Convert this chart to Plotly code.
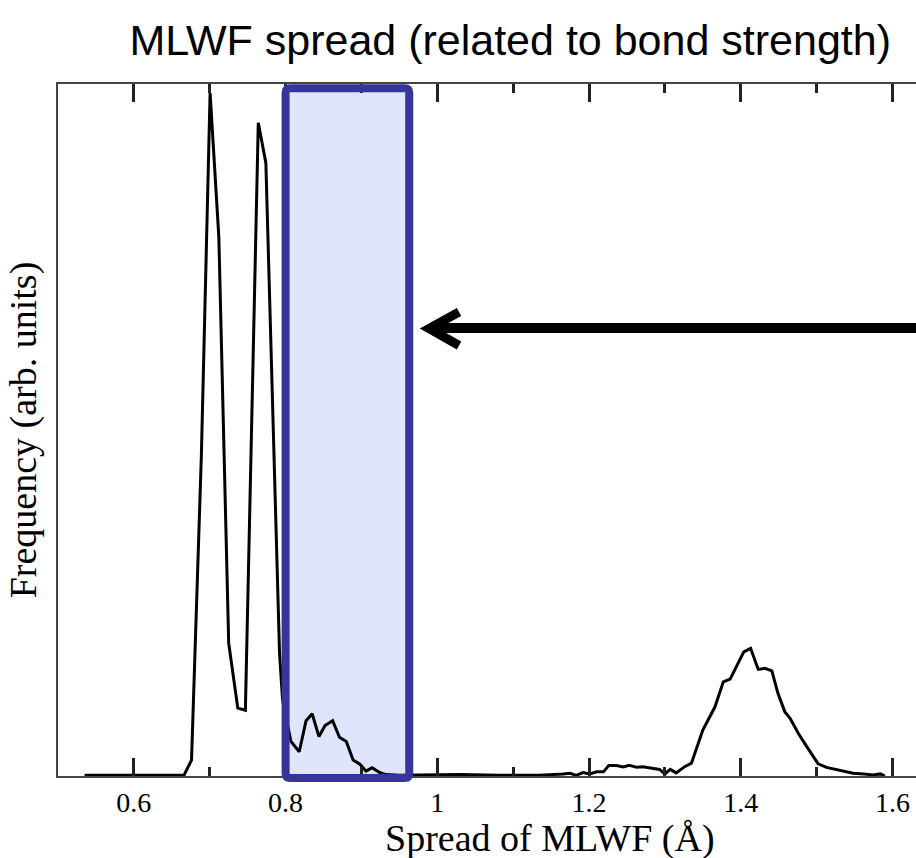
import plotly.graph_objects as go

# MLWF spread histogram (arbitrary frequency units)
spread = [0.535, 0.666, 0.676, 0.689, 0.7005, 0.712, 0.725, 0.737, 0.747, 0.764,
          0.774, 0.792, 0.796, 0.807, 0.818, 0.827, 0.835, 0.844, 0.852, 0.862,
          0.871, 0.880, 0.889, 0.898, 0.906, 0.914, 0.924, 0.932, 0.950, 0.990,
          1.029, 1.082, 1.135, 1.166, 1.175, 1.183, 1.192, 1.201, 1.210, 1.219,
          1.226, 1.236, 1.245, 1.253, 1.263, 1.271, 1.282, 1.293, 1.300, 1.307,
          1.315, 1.326, 1.335, 1.350, 1.366, 1.377, 1.386, 1.397, 1.404, 1.413,
          1.423, 1.432, 1.441, 1.449, 1.458, 1.465, 1.476, 1.487, 1.502, 1.513,
          1.531, 1.548, 1.562, 1.575, 1.584, 1.590]
frequency = [0.1, 0.1, 2.3, 46.4, 98.7, 77.9, 19.2, 9.8, 9.5, 94.4,
             88.6, 17.8, 11.0, 5.0, 3.5, 8.0, 9.0, 5.7, 7.3, 8.0,
             5.6, 5.0, 2.3, 1.7, 0.7, 1.2, 0.5, 0.2, 0.1, 0.15,
             0.2, 0.1, 0.1, 0.3, 0.4, 0.1, 0.5, 0.3, 0.6, 0.6,
             1.5, 1.5, 1.3, 1.55, 1.25, 1.35, 1.1, 0.95, 0.3, 0.95,
             0.45, 1.35, 1.85, 6.65, 10.0, 13.6, 14.0, 16.3, 17.95, 18.45,
             15.4, 15.55, 15.2, 11.95, 9.3, 8.35, 6.15, 4.25, 1.75, 1.25,
             0.85, 0.4, 0.3, 0.15, 0.3, 0.0]

tick_vals = [0.6, 0.8, 1.0, 1.2, 1.4, 1.6]
tick_text = ["0.6", "0.8", "1", "1.2", "1.4", "1.6"]
minor_step = 0.1

# highlighted spread window
window = [0.8, 0.963]

serif = "Liberation Serif, Times New Roman, serif"
sans = "Liberation Sans, Arial, Helvetica, sans-serif"
frame = "#444444"
tick_color = "#222222"

fig = go.Figure()
fig.add_trace(go.Scatter(
    x=spread, y=frequency, mode="lines",
    line=dict(color="black", width=3),
    showlegend=False, hoverinfo="skip",
))

# window: light fill under the curve, dark border on top
x0, x1 = window
yb, yt = -0.003, 0.994
rx, ry = 0.006, 0.007


def rounded(xa, xb, ya, yb_):
    return (f"M {xa+rx} {ya} L {xb-rx} {ya} Q {xb} {ya} {xb} {ya+ry} "
            f"L {xb} {yb_-ry} Q {xb} {yb_} {xb-rx} {yb_} "
            f"L {xa+rx} {yb_} Q {xa} {yb_} {xa} {yb_-ry} "
            f"L {xa} {ya+ry} Q {xa} {ya} {xa+rx} {ya} Z")


fig.add_shape(type="path", xref="x", yref="paper", path=rounded(x0, x1, yb, yt),
              fillcolor="#dfe5fc", line=dict(width=0), layer="below")
fig.add_shape(type="path", xref="x", yref="paper", path=rounded(x0, x1, yb, yt),
              fillcolor="rgba(0,0,0,0)", line=dict(color="#35359b", width=8),
              layer="above")

# arrow pointing at the window
fig.add_shape(type="line", xref="paper", yref="paper",
              x0=0.436, x1=1.02, y0=0.6474, y1=0.6474,
              line=dict(color="black", width=10))
fig.add_shape(type="path", xref="paper", yref="paper",
              path="M 0.4674 0.6705 L 0.4324 0.6467 L 0.4674 0.6221",
              line=dict(color="black", width=9), fillcolor="rgba(0,0,0,0)")

# x-axis caption
fig.add_annotation(text="Spread of MLWF (Å)", xref="paper", yref="paper",
                   x=0.573, y=-0.0896, xanchor="center", yanchor="middle",
                   showarrow=False,
                   font=dict(family=serif, size=38, color="black"))

fig.update_layout(
    width=916, height=858,
    margin=dict(l=58, r=0, t=84, b=82),
    paper_bgcolor="white", plot_bgcolor="white",
    title=dict(text="MLWF spread (related to bond strength)",
               x=0.557, xanchor="center", y=0.9534, yanchor="middle",
               font=dict(family=sans, size=43, color="black")),
    xaxis=dict(
        range=[0.5, 1.631], showgrid=False, zeroline=False,
        showline=True, linecolor=frame, linewidth=2, mirror="ticks",
        layer="above traces",
        tickmode="array", tickvals=tick_vals, ticktext=tick_text,
        ticks="inside", ticklen=18, tickwidth=2.5, tickcolor=tick_color,
        tickfont=dict(family=serif, size=28, color="black"),
        minor=dict(tick0=0.5, dtick=minor_step, ticks="inside",
                   ticklen=9, tickwidth=2.5, tickcolor=tick_color),
    ),
    yaxis=dict(
        range=[0, 100], showgrid=False, zeroline=False,
        showline=True, linecolor=frame, linewidth=2, mirror=False,
        ticks="", showticklabels=False,
        title=dict(text="Frequency (arb. units)", standoff=8,
                   font=dict(family=serif, size=38, color="black")),
    ),
)

fig.write_html("out.html")
